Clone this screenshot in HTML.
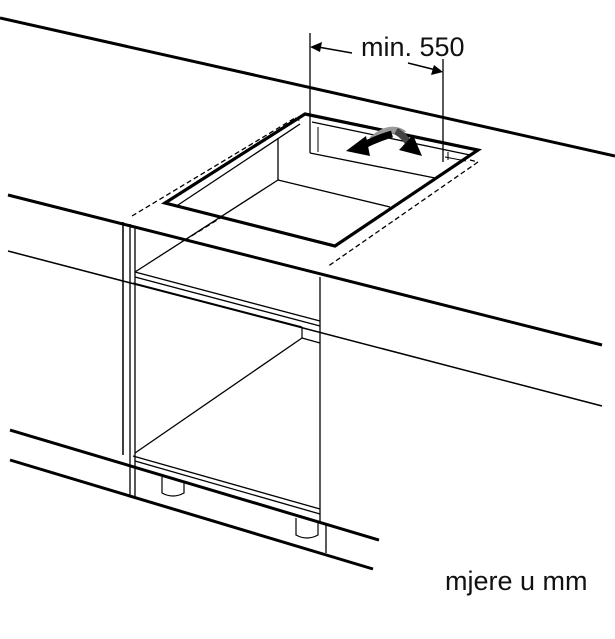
<!DOCTYPE html>
<html><head><style>
html,body{margin:0;padding:0;background:#fff;}
svg{display:block;}
text{font-family:"Liberation Sans",Arial,sans-serif;fill:#111;}
</style></head><body>
<svg width="615" height="639" viewBox="0 0 615 639" xmlns="http://www.w3.org/2000/svg">
<g fill="none" stroke="#000" stroke-linecap="butt">
<line x1="0" y1="18" x2="615" y2="156" stroke-width="3"/>
<line x1="8" y1="195" x2="602" y2="345" stroke-width="3"/>
<line x1="8" y1="251" x2="602" y2="406" stroke-width="1.5"/>
<polygon points="165,203 305,114 478,150 335,246" stroke-width="3.2"/>
<line x1="178" y1="205" x2="300" y2="124" stroke-width="1.3"/>
<line x1="312" y1="122" x2="470" y2="155" stroke-width="1.3"/>
<line x1="310" y1="153" x2="435" y2="178" stroke-width="1.3"/>
<line x1="318" y1="127" x2="318" y2="152" stroke-width="1"/>
<line x1="445" y1="157" x2="466" y2="161" stroke-width="1"/>
<line x1="448" y1="152" x2="448" y2="160" stroke-width="1"/>
<line x1="278" y1="138" x2="278" y2="180" stroke-width="1.3"/>
<line x1="278" y1="180" x2="390" y2="207" stroke-width="1.3"/>
<line x1="278" y1="180" x2="135" y2="272" stroke-width="1.3"/>
<g stroke-dasharray="5,3" stroke-width="1.3">
<line x1="132" y1="216" x2="295" y2="118"/>
<line x1="295" y1="118" x2="302" y2="122"/>
<line x1="185" y1="240" x2="222" y2="217"/>
<line x1="478" y1="162" x2="327" y2="267"/>
<line x1="470" y1="160" x2="478" y2="162"/>
</g>
<line x1="310" y1="33" x2="310" y2="153" stroke-width="1.3"/>
<line x1="443" y1="59" x2="443" y2="162" stroke-width="1.3"/>
<line x1="352" y1="53" x2="318" y2="47" stroke-width="1.5"/>
<line x1="408" y1="63" x2="436" y2="70" stroke-width="1.5"/>
<line x1="123" y1="222" x2="123" y2="455" stroke-width="1.5"/>
<line x1="130" y1="224" x2="130" y2="497" stroke-width="1.3"/>
<line x1="135" y1="226" x2="135" y2="497" stroke-width="1.3"/>
<line x1="130" y1="497" x2="135" y2="497" stroke-width="1.3"/>
<line x1="320" y1="277" x2="320" y2="522" stroke-width="1.3"/>
<line x1="326" y1="525" x2="326" y2="553" stroke-width="1.3"/>
<line x1="135" y1="272" x2="320" y2="321" stroke-width="1.3"/>
<line x1="135" y1="277" x2="320" y2="326" stroke-width="1.3"/>
<line x1="133" y1="283" x2="302" y2="327" stroke-width="1.3"/>
<line x1="302" y1="327" x2="302" y2="338" stroke-width="1.2"/>
<line x1="302" y1="338" x2="320" y2="343" stroke-width="1.2"/>
<line x1="302" y1="338" x2="135" y2="453" stroke-width="1.3"/>
<line x1="133" y1="456" x2="320" y2="509" stroke-width="1.3"/>
<line x1="135" y1="461" x2="320" y2="514" stroke-width="1.3"/>
<path d="M162,477 L162,493 Q173,499 184,493 L184,482" stroke-width="1.2"/>
<path d="M296,518 L296,535 Q307,541 318,535 L318,522" stroke-width="1.2"/>
<line x1="10" y1="430" x2="379" y2="540" stroke-width="3"/>
<line x1="10" y1="460" x2="373" y2="569" stroke-width="3"/>
<path d="M372,140 Q390,124 404,134" stroke="#999" stroke-width="7"/>
<path d="M362,146 Q378,138 392,134" stroke="#000" stroke-width="7"/>
<path d="M396,131 Q406,137 410,146" stroke="#444" stroke-width="7"/>
</g>
<polygon points="310,47 322,42 320,52" fill="#000"/>
<polygon points="443,72 431,75 434,65" fill="#000"/>
<polygon points="346,151 366,136 370,156" fill="#000"/>
<polygon points="422,156 399,150 413,135" fill="#000"/>
<text x="361" y="56" font-size="27">min. 550</text>
<text x="445" y="590" font-size="27">mjere u mm</text>
</svg>
</body></html>
